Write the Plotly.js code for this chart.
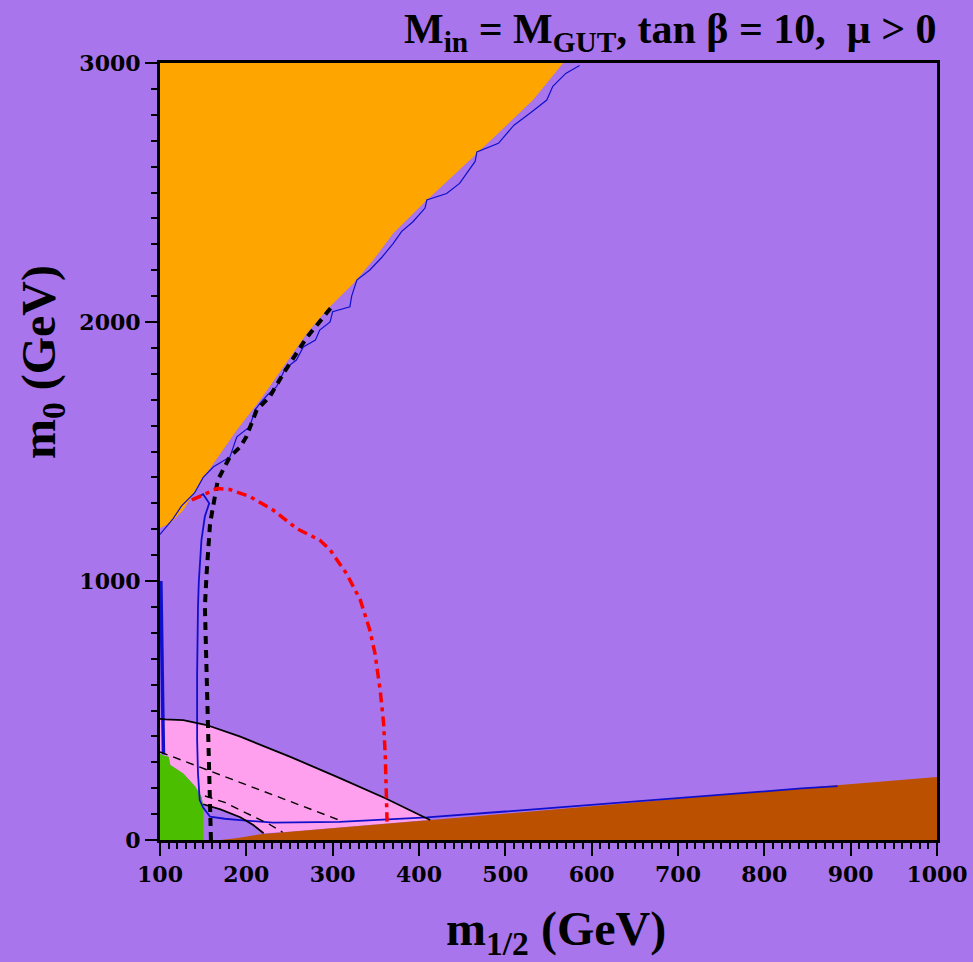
<!DOCTYPE html>
<html>
<head>
<meta charset="utf-8">
<script src="https://cdn.plot.ly/plotly-3.0.1.min.js"></script>
<style>html,body{margin:0;padding:0;background:#A875EC;}#chart{width:973px;height:962px;}</style>
</head>
<body>
<div id="chart"></div>
<script>
// ---- data (m_1/2 in GeV, m_0 in GeV) ----
const orangeX = [100,567,532,463,405,370,347,324,293,270,243,216,189,162,146,127,112,100];
const orangeY = [3000,3000,2857,2638,2458,2342,2239,2149,2046,1956,1827,1699,1583,1454,1377,1274,1223,1205];

const brownX = [170,190,216,300,424,600,800,1000,1000];
const brownY = [0,8,22,45,80,130,188,243,0];

const pinkX = [100,106,127,154,193,251,309,361,405,413,400,300,250,220,208,193,170,150,148,141,127,112,110,102,100];
const pinkY = [468,466,463,444,399,321,238,161,90,77,74,45,32,26,58,88,118,138,167,206,257,290,321,328,335];

const greenX = [100,100,102,110,112,127,141,148,150,150];
const greenY = [0,335,328,321,290,257,206,167,135,0];

const edgeBlueX = [586,570,555,548,530,510,492,467,465,447,432,409,407,393,380,370,357,343,328,322,320,300,297,285,280,266,258,245,235,225,216,210,204,189,181,162,150,140,125,115,100];
const edgeBlueY = [2990,2960,2910,2857,2810,2760,2690,2657,2620,2535,2496,2471,2440,2387,2350,2303,2250,2201,2162,2100,2059,2040,2000,1969,1930,1904,1853,1820,1750,1720,1687,1660,1596,1557,1479,1441,1400,1340,1290,1240,1180];

const leftBlueX = [101,102,103,104,104];
const leftBlueY = [1000,800,600,400,330];

const loopBlueX = [137,150,157,152,148,145,144,143,143,144,146,150,158,175,193,231,308,378,409,500,600,742,843,885];
const loopBlueY = [1313,1335,1300,1250,1158,1000,901,643,386,257,154,125,90,82,77,67,70,82,87,110,136,174,199,208];

const topSolidX = [100,106,127,154,193,251,309,361,405,413];
const topSolidY = [468,466,463,444,399,321,238,161,90,77];

const lowSolidX = [150,170,193,208,220];
const lowSolidY = [138,118,88,58,26];

const dashUpX = [100,150,200,250,300,312];
const dashUpY = [340,278,213,150,88,71];

const dashLowX = [152,175,200,225,242];
const dashLowY = [170,145,104,64,30];

const thickDashX = [159,158,156,154,152,154,158,167,181,193,200,212,227,243,270,299];
const thickDashY = [0,154,386,643,901,1029,1222,1390,1480,1518,1557,1660,1711,1802,1940,2059];

const redX = [137,154,166,181,204,231,258,285,297,316,332,343,349,355,359,361,362,363];
const redY = [1313,1338,1357,1353,1326,1274,1203,1158,1120,1029,927,811,721,579,451,322,193,71];

const xMajor = [100,200,300,400,500,600,700,800,900,1000];
const xMid = [150,250,350,450,550,650,750,850,950];
const yMajor = [0,1000,2000,3000];
const yMid = [500,1500,2500];

const titleText = 'M<sub>in</sub> = M<sub>GUT</sub>, tan β = 10,\u00A0\u00A0μ > 0';
const xTitleText = 'm<sub>1/2</sub> (GeV)';
const yTitleText = 'm<sub>0</sub> (GeV)';

// ---- styles ----
const PURPLE = '#A875EC';
function fillTrace(x, y, color) {
  return {x: x, y: y, type: 'scatter', mode: 'lines', fill: 'toself', fillcolor: color,
          line: {width: 0, color: color}, hoverinfo: 'skip', showlegend: false};
}
function lineTrace(x, y, color, width, dash) {
  return {x: x, y: y, type: 'scatter', mode: 'lines',
          line: {color: color, width: width, dash: dash || 'solid'}, hoverinfo: 'skip', showlegend: false};
}

const traces = [
  fillTrace(orangeX, orangeY, '#FFA500'),
  fillTrace(pinkX, pinkY, '#FFA0EE'),
  fillTrace(brownX, brownY, '#BB5000'),
  fillTrace(greenX, greenY, '#4CBE00'),
  lineTrace(edgeBlueX, edgeBlueY, '#1010CC', 1.2),
  lineTrace(leftBlueX, leftBlueY, '#1010CC', 3.5),
  lineTrace(loopBlueX, loopBlueY, '#1010CC', 1.8),
  lineTrace(topSolidX, topSolidY, '#000000', 1.8),
  lineTrace(lowSolidX, lowSolidY, '#000000', 1.8),
  lineTrace(dashUpX, dashUpY, '#000000', 1.4, '8px,6px'),
  lineTrace(dashLowX, dashLowY, '#000000', 1.4, '8px,6px'),
  lineTrace(thickDashX, thickDashY, '#000000', 4, '8px,6px'),
  lineTrace(redX, redY, '#FF0000', 3.5, '10px,5px,4px,5px')
];

const tickFont = {family: 'DejaVu Serif', size: 22, color: '#000', weight: 'bold'};
const XR = [100, 1000], YR = [0, 3000];

const layout = {
  width: 973, height: 962,
  paper_bgcolor: PURPLE, plot_bgcolor: PURPLE,
  margin: {l: 160, r: 36, t: 63, b: 122, pad: 0},
  showlegend: false,
  xaxis: {range: XR, tickmode: 'array', tickvals: xMajor, ticktext: xMajor.map(String),
          ticks: 'outside', ticklen: 13, tickwidth: 2, tickcolor: '#000',
          minor: {dtick: 10, tick0: 100, ticks: 'outside', ticklen: 6, tickwidth: 2, tickcolor: '#000', showgrid: false},
          showline: true, linewidth: 3, linecolor: '#000', mirror: true,
          showgrid: false, zeroline: false, tickfont: tickFont, fixedrange: true},
  xaxis2: {range: XR, overlaying: 'x', anchor: 'y', side: 'bottom', tickmode: 'array', tickvals: xMid,
           ticks: 'outside', ticklen: 10, tickwidth: 2, tickcolor: '#000', showticklabels: false,
           showline: false, showgrid: false, zeroline: false},
  xaxis3: {range: XR, overlaying: 'x', anchor: 'y', side: 'top', tickmode: 'array', tickvals: xMajor,
           ticks: 'inside', ticklen: 14, tickwidth: 2, tickcolor: '#000', showticklabels: false,
           minor: {dtick: 10, tick0: 100, ticks: 'inside', ticklen: 6, tickwidth: 2, tickcolor: '#000', showgrid: false},
           showline: false, showgrid: false, zeroline: false},
  xaxis4: {range: XR, overlaying: 'x', anchor: 'y', side: 'top', tickmode: 'array', tickvals: xMid,
           ticks: 'inside', ticklen: 10, tickwidth: 2, tickcolor: '#000', showticklabels: false,
           showline: false, showgrid: false, zeroline: false},
  yaxis: {range: YR, tickmode: 'array', tickvals: yMajor, ticktext: yMajor.map(String),
          ticks: 'outside', ticklen: 12, tickwidth: 2, tickcolor: '#000',
          minor: {dtick: 100, tick0: 0, ticks: 'outside', ticklen: 6, tickwidth: 2, tickcolor: '#000', showgrid: false},
          showline: true, linewidth: 3, linecolor: '#000', mirror: true,
          showgrid: false, zeroline: false, tickfont: tickFont, fixedrange: true},
  yaxis2: {range: YR, overlaying: 'y', anchor: 'x', side: 'left', tickmode: 'array', tickvals: yMid,
           ticks: 'outside', ticklen: 9, tickwidth: 2, tickcolor: '#000', showticklabels: false,
           showline: false, showgrid: false, zeroline: false},
  yaxis3: {range: YR, overlaying: 'y', anchor: 'x', side: 'right', tickmode: 'array', tickvals: yMajor,
           ticks: 'inside', ticklen: 12, tickwidth: 2, tickcolor: '#000', showticklabels: false,
           minor: {dtick: 100, tick0: 0, ticks: 'inside', ticklen: 5, tickwidth: 2, tickcolor: '#000', showgrid: false},
           showline: false, showgrid: false, zeroline: false},
  yaxis4: {range: YR, overlaying: 'y', anchor: 'x', side: 'right', tickmode: 'array', tickvals: yMid,
           ticks: 'inside', ticklen: 8, tickwidth: 2, tickcolor: '#000', showticklabels: false,
           showline: false, showgrid: false, zeroline: false},
  annotations: [
    {text: titleText, xref: 'paper', yref: 'paper', x: 1.0, y: 1.0, xanchor: 'right', yanchor: 'bottom',
     xshift: 2, yshift: 3, showarrow: false,
     font: {family: 'Liberation Serif', size: 42, color: '#000', weight: 'bold'}},
    {text: xTitleText, xref: 'paper', yref: 'paper', x: 0.51, y: -0.118, xanchor: 'center', yanchor: 'middle',
     showarrow: false, font: {family: 'Liberation Serif', size: 48, color: '#000', weight: 'bold'}},
    {text: yTitleText, xref: 'paper', yref: 'paper', x: -0.152, y: 0.615, xanchor: 'center', yanchor: 'middle',
     textangle: -90, showarrow: false, font: {family: 'Liberation Serif', size: 48, color: '#000', weight: 'bold'}}
  ]
};

Plotly.newPlot('chart', traces, layout, {displayModeBar: false, staticPlot: true});
</script>
</body>
</html>
